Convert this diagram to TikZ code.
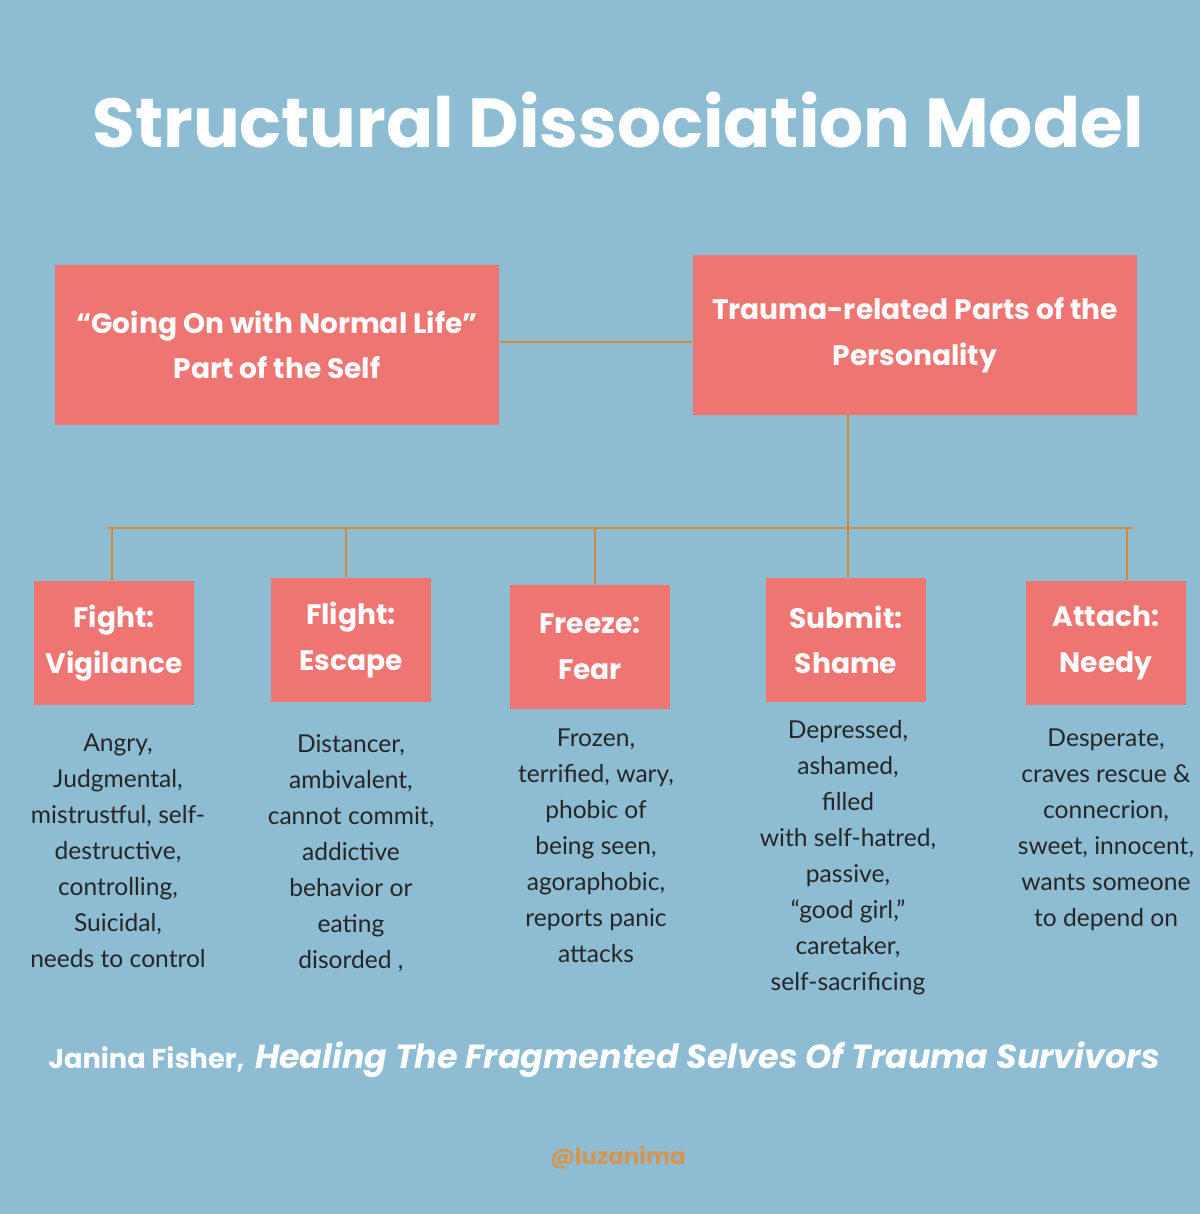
\documentclass[tikz,border=0pt]{standalone}
\usepackage{fontspec}
\setmainfont{Lato}
\newfontfamily\titlefont{Poppins}
\definecolor{bgblue}{HTML}{8DBCD3}
\definecolor{salmon}{HTML}{EE7572}
\definecolor{branch}{HTML}{CF8A3E}
\begin{document}
\begin{tikzpicture}[x=0.02cm, y=-0.02cm,
    bigbox/.style={rectangle, fill=salmon, text=white, align=center, font=\titlefont\bfseries\fontsize{16}{26}\selectfont, minimum width=8.9cm, minimum height=3.2cm, inner sep=0pt},
    partbox/.style={rectangle, fill=salmon, text=white, align=center, font=\titlefont\bfseries\fontsize{16}{26}\selectfont, minimum width=3.22cm, minimum height=2.5cm, inner sep=0pt},
    traits/.style={anchor=north, align=center, text=black!85, font=\fontsize{14}{20.5}\selectfont},
    link/.style={draw=branch, line width=1.6pt}]

    \fill[bgblue] (0,0) rectangle (1200,1214);
    \useasboundingbox (0,0) rectangle (1200,1214);

    \node[text=white, font=\titlefont\bfseries\fontsize{39.5}{46}\selectfont] (title) at (618,120) {Structural Dissociation Model};

    \node[bigbox] (normal) at (277,345) {“Going On with Normal Life”\\Part of the Self};
    \node[bigbox] (trauma) at (915,335) {Trauma-related Parts of the\\Personality};
    \coordinate (joinL) at (500,342);
    \coordinate (joinR) at (692,342);
    \draw[link] (normal.east |- joinL) -- (trauma.west |- joinR);

    \coordinate (split) at (848,528);
    \coordinate (railL) at (107,528);
    \coordinate (railR) at (1133,528);
    \draw[link] (trauma.south -| split) -- (split);
    \draw[link] (railL) -- (railR);

    \node[partbox] (fight)  at (114,643) {Fight:\\Vigilance};
    \node[partbox] (flight) at (351,640) {Flight:\\Escape};
    \node[partbox] (freeze) at (590,647) {Freeze:\\Fear};
    \node[partbox] (submit) at (846,640) {Submit:\\Shame};
    \node[partbox] (attach) at (1106,643) {Attach:\\Needy};

    \foreach \part/\xx in {fight/112, flight/346, freeze/595, submit/848, attach/1127}
        \draw[link] (\xx,528) -- (\part.north -| \xx,0);

    \node[traits] (fightT)  at (118,728) {Angry,\\Judgmental,\\mistrustful, self-\\destructive,\\controlling,\\Suicidal,\\needs to control};
    \node[traits] (flightT) at (351,728) {Distancer,\\ambivalent,\\cannot commit,\\addictive\\behavior or\\eating\\disorded ,};
    \node[traits] (freezeT) at (596,723) {Frozen,\\terrified, wary,\\phobic of\\being seen,\\agoraphobic,\\reports panic\\attacks};
    \node[traits] (submitT) at (848,714) {Depressed,\\ashamed,\\filled\\with self-hatred,\\passive,\\“good girl,”\\caretaker,\\self-sacrificing};
    \node[traits] (attachT) at (1106,723) {Desperate,\\craves rescue \&\\connecrion,\\sweet, innocent,\\wants someone\\to depend on};

    \node[text=white, font=\titlefont\bfseries\fontsize{15.5}{18}\selectfont, anchor=base west, inner sep=0pt] (author) at (48,1068) {Janina Fisher,};
    \node[text=white, font=\titlefont\bfseries\itshape\fontsize{19}{22}\selectfont, anchor=base west, inner sep=0pt] (book) at ([xshift=0.2cm]author.base east) {Healing The Fragmented Selves Of Trauma Survivors};

    \node[text=branch!90!white, font=\titlefont\bfseries\fontsize{13}{16}\selectfont] (handle) at (618,1158) {@luzanima};
\end{tikzpicture}
\end{document}
